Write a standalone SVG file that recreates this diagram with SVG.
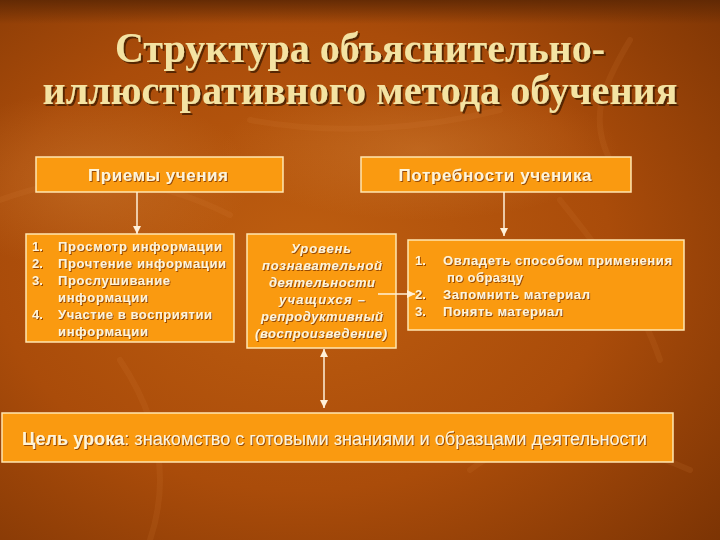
<svg xmlns="http://www.w3.org/2000/svg" width="720" height="540" viewBox="0 0 720 540">
<defs>
<radialGradient id="bg" cx="0.42" cy="0.48" r="0.78">
<stop offset="0" stop-color="#BE5E10"/>
<stop offset="0.55" stop-color="#AA4C0A"/>
<stop offset="1" stop-color="#7C3404"/>
</radialGradient>
<radialGradient id="glow" cx="0.5" cy="0.5" r="0.5">
<stop offset="0" stop-color="#D98A3E" stop-opacity="0.35"/>
<stop offset="1" stop-color="#D98A3E" stop-opacity="0"/>
</radialGradient>
<linearGradient id="top" x1="0" y1="0" x2="0" y2="1">
<stop offset="0" stop-color="#5E2804" stop-opacity="0.9"/>
<stop offset="1" stop-color="#5E2804" stop-opacity="0"/>
</linearGradient>
<filter id="tsh" x="-5%" y="-20%" width="110%" height="140%">
<feDropShadow dx="2" dy="2" stdDeviation="0.6" flood-color="#4A1E00" flood-opacity="0.85"/>
</filter>
<filter id="sh" x="-5%" y="-30%" width="110%" height="160%">
<feDropShadow dx="1" dy="1" stdDeviation="0.3" flood-color="#8A4000" flood-opacity="0.9"/>
</filter>
<marker id="ah" markerUnits="userSpaceOnUse" markerWidth="8" markerHeight="8" refX="8" refY="4" orient="auto-start-reverse">
<path d="M0,0 L8,4 L0,8 z" fill="#FFF0D8"/>
</marker>
<style>
.box{fill:#FA9A10;stroke:#FFE6B0;stroke-width:1.5}
.t{font-family:"Liberation Sans",Arial,sans-serif;fill:#FFF4D8;filter:url(#sh)}
.b{font-weight:bold}
.hd{font-size:17px;font-weight:bold}
.li{font-size:13px;font-weight:bold}
.it{font-size:13px;font-weight:bold;font-style:italic}
.title{font-family:"Liberation Serif","Times New Roman",serif;font-weight:bold;font-size:42px;fill:#F4E3A2;filter:url(#tsh)}
.con{stroke:#FFF0D8;stroke-width:1.5;fill:none}
.deco{fill:none;stroke:#D9823A;stroke-opacity:0.13;stroke-width:6;stroke-linecap:round}
</style>
</defs>
<rect width="720" height="540" fill="url(#bg)"/>
<ellipse cx="90" cy="180" rx="160" ry="90" fill="url(#glow)"/>
<ellipse cx="420" cy="150" rx="200" ry="70" fill="url(#glow)"/>
<rect width="720" height="24" fill="url(#top)"/>
<g id="background-texture">
<path class="deco" d="M0,200 C80,170 150,175 230,215"/>
<path class="deco" d="M560,200 C600,250 640,300 660,360"/>
<path class="deco" d="M120,360 C160,420 170,480 150,540"/>
<path class="deco" d="M470,470 C520,430 600,430 690,470"/>
<path class="deco" d="M630,40 C600,90 590,120 610,160"/>
<path class="deco" d="M250,120 C330,135 420,130 500,110"/>
</g>
<g id="title">
<text class="title" x="360" y="62" text-anchor="middle" textLength="490" lengthAdjust="spacingAndGlyphs">Структура объяснительно-</text>
<text class="title" x="360" y="104" text-anchor="middle" textLength="635" lengthAdjust="spacingAndGlyphs">иллюстративного метода обучения</text>
</g>
<g id="node-priemy">
<rect class="box" x="36" y="157" width="247" height="35"/>
<text class="t hd" x="158" y="181" text-anchor="middle" textLength="140" lengthAdjust="spacing">Приемы учения</text>
</g>
<g id="node-potrebnosti">
<rect class="box" x="361" y="157" width="270" height="35"/>
<text class="t hd" x="495" y="181" text-anchor="middle" textLength="193" lengthAdjust="spacing">Потребности ученика</text>
</g>
<g id="node-priemy-list">
<rect class="box" x="26" y="234" width="208" height="108"/>
<text class="t li" x="32" y="251">1.</text>
<text class="t li" x="58" y="251" textLength="164" lengthAdjust="spacing">Просмотр информации</text>
<text class="t li" x="32" y="268">2.</text>
<text class="t li" x="58" y="268" textLength="168" lengthAdjust="spacing">Прочтение информации</text>
<text class="t li" x="32" y="285">3.</text>
<text class="t li" x="58" y="285" textLength="112" lengthAdjust="spacing">Прослушивание</text>
<text class="t li" x="58" y="302" textLength="90" lengthAdjust="spacing">информации</text>
<text class="t li" x="32" y="319">4.</text>
<text class="t li" x="58" y="319" textLength="154" lengthAdjust="spacing">Участие в восприятии</text>
<text class="t li" x="58" y="336" textLength="90" lengthAdjust="spacing">информации</text>
</g>
<g id="node-uroven">
<rect class="box" x="247" y="234" width="149" height="114"/>
<text class="t it" x="321" y="253" text-anchor="middle" textLength="60" lengthAdjust="spacing">Уровень</text>
<text class="t it" x="322" y="270" text-anchor="middle" textLength="120" lengthAdjust="spacing">познавательной</text>
<text class="t it" x="322" y="287" text-anchor="middle" textLength="106" lengthAdjust="spacing">деятельности</text>
<text class="t it" x="322" y="304" text-anchor="middle" textLength="86" lengthAdjust="spacing">учащихся –</text>
<text class="t it" x="322" y="321" text-anchor="middle" textLength="122" lengthAdjust="spacing">репродуктивный</text>
<text class="t it" x="321" y="338" text-anchor="middle" textLength="132" lengthAdjust="spacing">(воспроизведение)</text>
</g>
<g id="node-potrebnosti-list">
<rect class="box" x="408" y="240" width="276" height="90"/>
<text class="t li" x="415" y="265">1.</text>
<text class="t li" x="443" y="265" textLength="229" lengthAdjust="spacing">Овладеть способом применения</text>
<text class="t li" x="447" y="282" textLength="76" lengthAdjust="spacing">по образцу</text>
<text class="t li" x="415" y="299">2.</text>
<text class="t li" x="443" y="299" textLength="147" lengthAdjust="spacing">Запомнить материал</text>
<text class="t li" x="415" y="316">3.</text>
<text class="t li" x="443" y="316" textLength="120" lengthAdjust="spacing">Понять материал</text>
</g>
<g id="node-cel">
<rect class="box" x="2" y="413" width="671" height="49"/>
<text class="t" x="22" y="445" font-size="18" textLength="625" lengthAdjust="spacingAndGlyphs"><tspan class="b">Цель урока</tspan>: знакомство с готовыми знаниями и образцами деятельности</text>
</g>
<g id="connectors">
<line class="con" x1="137" y1="192" x2="137" y2="234" marker-end="url(#ah)"/>
<line class="con" x1="504" y1="192" x2="504" y2="236" marker-end="url(#ah)"/>
<line class="con" x1="378" y1="294" x2="415" y2="294" marker-end="url(#ah)"/>
<line class="con" x1="324" y1="349" x2="324" y2="408" marker-start="url(#ah)" marker-end="url(#ah)"/>
</g>
</svg>
